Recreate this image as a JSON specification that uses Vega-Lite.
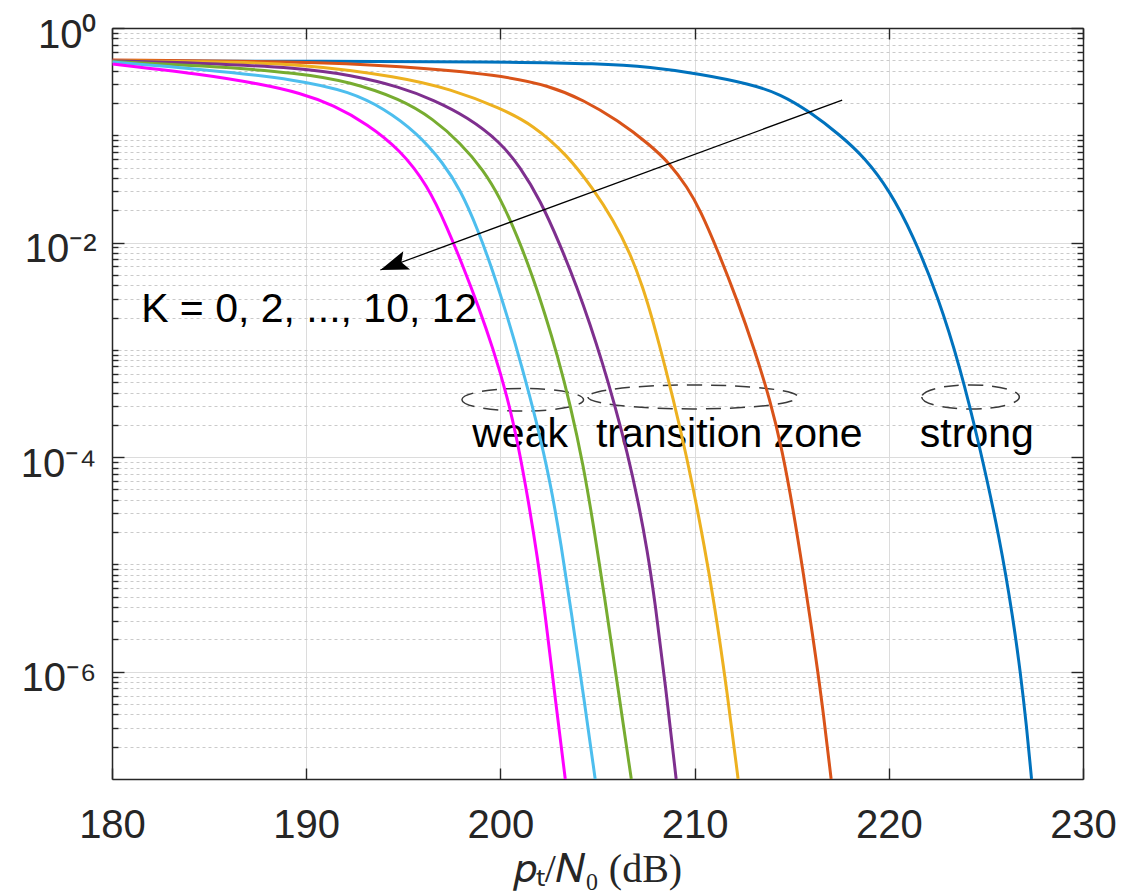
{
  "$schema": "https://vega.github.io/schema/vega-lite/v6.json",
  "width": 971,
  "height": 751,
  "autosize": "none",
  "padding": {"left": 112, "top": 28, "right": 57, "bottom": 116},
  "background": "white",
  "config": {
    "view": {"stroke": null},
    "axis": {
      "domainColor": "#262626",
      "domainWidth": 1.5,
      "tickColor": "#262626",
      "tickWidth": 1.4,
      "labelFont": "Liberation Sans",
      "labelFontSize": 40,
      "labelColor": "#262626",
      "titleFont": "Liberation Serif",
      "titleFontSize": 40,
      "titleFontWeight": "normal",
      "titleColor": "#262626",
      "gridColor": "#dcdcdc",
      "gridWidth": 1
    }
  },
  "datasets": {
    "curves": [
      {"K": 0, "ptN0": 180.03, "Pout": 0.4926},
      {"K": 0, "ptN0": 189.70, "Pout": 0.4904},
      {"K": 0, "ptN0": 199.99, "Pout": 0.4852},
      {"K": 0, "ptN0": 205.14, "Pout": 0.4669},
      {"K": 0, "ptN0": 207.72, "Pout": 0.4330},
      {"K": 0, "ptN0": 210.29, "Pout": 0.3726},
      {"K": 0, "ptN0": 212.86, "Pout": 0.3007},
      {"K": 0, "ptN0": 214.41, "Pout": 0.2426},
      {"K": 0, "ptN0": 215.95, "Pout": 0.1648},
      {"K": 0, "ptN0": 217.49, "Pout": 0.1006},
      {"K": 0, "ptN0": 218.78, "Pout": 0.0614},
      {"K": 0, "ptN0": 220.02, "Pout": 0.03093},
      {"K": 0, "ptN0": 221.25, "Pout": 0.01177},
      {"K": 0, "ptN0": 222.54, "Pout": 0.003112},
      {"K": 0, "ptN0": 223.67, "Pout": 0.000693},
      {"K": 0, "ptN0": 224.70, "Pout": 0.0001218},
      {"K": 0, "ptN0": 225.73, "Pout": 1.691e-5},
      {"K": 0, "ptN0": 226.41, "Pout": 3.04e-6},
      {"K": 0, "ptN0": 226.76, "Pout": 1.039e-6},
      {"K": 0, "ptN0": 227.10, "Pout": 3.06e-7},
      {"K": 0, "ptN0": 227.35, "Pout": 1.0e-7},

      {"K": 2, "ptN0": 180.03, "Pout": 0.5033},
      {"K": 2, "ptN0": 189.70, "Pout": 0.4873},
      {"K": 2, "ptN0": 194.85, "Pout": 0.4421},
      {"K": 2, "ptN0": 199.99, "Pout": 0.3648},
      {"K": 2, "ptN0": 202.57, "Pout": 0.2881},
      {"K": 2, "ptN0": 204.27, "Pout": 0.2133},
      {"K": 2, "ptN0": 206.02, "Pout": 0.1389},
      {"K": 2, "ptN0": 207.72, "Pout": 0.08121},
      {"K": 2, "ptN0": 208.74, "Pout": 0.05401},
      {"K": 2, "ptN0": 209.62, "Pout": 0.03297},
      {"K": 2, "ptN0": 210.29, "Pout": 0.02013},
      {"K": 2, "ptN0": 211.22, "Pout": 0.008177},
      {"K": 2, "ptN0": 212.19, "Pout": 0.002918},
      {"K": 2, "ptN0": 213.07, "Pout": 0.001020},
      {"K": 2, "ptN0": 213.89, "Pout": 0.0003412},
      {"K": 2, "ptN0": 214.51, "Pout": 0.0001167},
      {"K": 2, "ptN0": 215.08, "Pout": 3.220e-5},
      {"K": 2, "ptN0": 215.59, "Pout": 8.51e-6},
      {"K": 2, "ptN0": 216.10, "Pout": 2.065e-6},
      {"K": 2, "ptN0": 216.57, "Pout": 5.12e-7},
      {"K": 2, "ptN0": 217.03, "Pout": 1.0e-7},

      {"K": 4, "ptN0": 180.03, "Pout": 0.4926},
      {"K": 4, "ptN0": 184.55, "Pout": 0.4873},
      {"K": 4, "ptN0": 189.70, "Pout": 0.4669},
      {"K": 4, "ptN0": 194.85, "Pout": 0.3495},
      {"K": 4, "ptN0": 197.42, "Pout": 0.2701},
      {"K": 4, "ptN0": 199.99, "Pout": 0.1797},
      {"K": 4, "ptN0": 201.69, "Pout": 0.1247},
      {"K": 4, "ptN0": 203.44, "Pout": 0.06553},
      {"K": 4, "ptN0": 204.78, "Pout": 0.03159},
      {"K": 4, "ptN0": 205.81, "Pout": 0.01624},
      {"K": 4, "ptN0": 206.68, "Pout": 0.008001},
      {"K": 4, "ptN0": 207.35, "Pout": 0.003775},
      {"K": 4, "ptN0": 207.87, "Pout": 0.001820},
      {"K": 4, "ptN0": 208.49, "Pout": 0.000693},
      {"K": 4, "ptN0": 209.26, "Pout": 0.0001871},
      {"K": 4, "ptN0": 209.93, "Pout": 5.163e-5},
      {"K": 4, "ptN0": 210.49, "Pout": 1.519e-5},
      {"K": 4, "ptN0": 211.01, "Pout": 4.378e-6},
      {"K": 4, "ptN0": 211.63, "Pout": 7.53e-7},
      {"K": 4, "ptN0": 212.24, "Pout": 1.0e-7},

      {"K": 6, "ptN0": 180.03, "Pout": 0.4926},
      {"K": 6, "ptN0": 184.55, "Pout": 0.4719},
      {"K": 6, "ptN0": 189.70, "Pout": 0.4239},
      {"K": 6, "ptN0": 192.27, "Pout": 0.3648},
      {"K": 6, "ptN0": 194.85, "Pout": 0.2820},
      {"K": 6, "ptN0": 196.55, "Pout": 0.2133},
      {"K": 6, "ptN0": 198.30, "Pout": 0.1482},
      {"K": 6, "ptN0": 199.99, "Pout": 0.08661},
      {"K": 6, "ptN0": 201.02, "Pout": 0.05064},
      {"K": 6, "ptN0": 202.05, "Pout": 0.02495},
      {"K": 6, "ptN0": 203.08, "Pout": 0.009497},
      {"K": 6, "ptN0": 203.96, "Pout": 0.003775},
      {"K": 6, "ptN0": 204.63, "Pout": 0.001707},
      {"K": 6, "ptN0": 205.24, "Pout": 0.000771},
      {"K": 6, "ptN0": 205.86, "Pout": 0.0003199},
      {"K": 6, "ptN0": 206.53, "Pout": 0.0001118},
      {"K": 6, "ptN0": 207.10, "Pout": 3.824e-5},
      {"K": 6, "ptN0": 207.56, "Pout": 1.365e-5},
      {"K": 6, "ptN0": 207.97, "Pout": 4.378e-6},
      {"K": 6, "ptN0": 208.49, "Pout": 7.70e-7},
      {"K": 6, "ptN0": 209.05, "Pout": 1.0e-7},

      {"K": 8, "ptN0": 180.03, "Pout": 0.4873},
      {"K": 8, "ptN0": 184.55, "Pout": 0.4471},
      {"K": 8, "ptN0": 189.70, "Pout": 0.3807},
      {"K": 8, "ptN0": 192.27, "Pout": 0.3139},
      {"K": 8, "ptN0": 194.85, "Pout": 0.2180},
      {"K": 8, "ptN0": 196.55, "Pout": 0.1419},
      {"K": 8, "ptN0": 197.94, "Pout": 0.08477},
      {"K": 8, "ptN0": 199.12, "Pout": 0.04749},
      {"K": 8, "ptN0": 199.99, "Pout": 0.02604},
      {"K": 8, "ptN0": 200.87, "Pout": 0.01152},
      {"K": 8, "ptN0": 201.69, "Pout": 0.004678},
      {"K": 8, "ptN0": 202.31, "Pout": 0.002114},
      {"K": 8, "ptN0": 202.93, "Pout": 0.000897},
      {"K": 8, "ptN0": 203.60, "Pout": 0.0003065},
      {"K": 8, "ptN0": 204.27, "Pout": 8.46e-5},
      {"K": 8, "ptN0": 204.83, "Pout": 2.097e-5},
      {"K": 8, "ptN0": 205.35, "Pout": 5.196e-6},
      {"K": 8, "ptN0": 206.02, "Pout": 7.70e-7},
      {"K": 8, "ptN0": 206.74, "Pout": 1.0e-7},

      {"K": 10, "ptN0": 180.03, "Pout": 0.4820},
      {"K": 10, "ptN0": 184.55, "Pout": 0.4148},
      {"K": 10, "ptN0": 189.70, "Pout": 0.3277},
      {"K": 10, "ptN0": 192.27, "Pout": 0.2532},
      {"K": 10, "ptN0": 193.97, "Pout": 0.1797},
      {"K": 10, "ptN0": 195.72, "Pout": 0.1050},
      {"K": 10, "ptN0": 197.06, "Pout": 0.05518},
      {"K": 10, "ptN0": 197.94, "Pout": 0.03093},
      {"K": 10, "ptN0": 198.81, "Pout": 0.01368},
      {"K": 10, "ptN0": 199.63, "Pout": 0.005321},
      {"K": 10, "ptN0": 200.35, "Pout": 0.002069},
      {"K": 10, "ptN0": 201.07, "Pout": 0.0007388},
      {"K": 10, "ptN0": 201.84, "Pout": 0.0002222},
      {"K": 10, "ptN0": 202.57, "Pout": 5.872e-5},
      {"K": 10, "ptN0": 203.13, "Pout": 1.519e-5},
      {"K": 10, "ptN0": 203.65, "Pout": 3.608e-6},
      {"K": 10, "ptN0": 204.27, "Pout": 6.21e-7},
      {"K": 10, "ptN0": 204.88, "Pout": 1.0e-7},

      {"K": 12, "ptN0": 180.03, "Pout": 0.4619},
      {"K": 12, "ptN0": 184.55, "Pout": 0.3726},
      {"K": 12, "ptN0": 187.64, "Pout": 0.3007},
      {"K": 12, "ptN0": 189.70, "Pout": 0.2479},
      {"K": 12, "ptN0": 191.40, "Pout": 0.1916},
      {"K": 12, "ptN0": 193.15, "Pout": 0.1274},
      {"K": 12, "ptN0": 194.85, "Pout": 0.07295},
      {"K": 12, "ptN0": 196.24, "Pout": 0.03442},
      {"K": 12, "ptN0": 197.27, "Pout": 0.01368},
      {"K": 12, "ptN0": 198.09, "Pout": 0.005925},
      {"K": 12, "ptN0": 198.86, "Pout": 0.002565},
      {"K": 12, "ptN0": 199.63, "Pout": 0.001020},
      {"K": 12, "ptN0": 200.35, "Pout": 0.0003719},
      {"K": 12, "ptN0": 200.92, "Pout": 0.0001299},
      {"K": 12, "ptN0": 201.43, "Pout": 3.991e-5},
      {"K": 12, "ptN0": 201.90, "Pout": 1.200e-5},
      {"K": 12, "ptN0": 202.31, "Pout": 3.384e-6},
      {"K": 12, "ptN0": 202.77, "Pout": 6.77e-7},
      {"K": 12, "ptN0": 203.34, "Pout": 1.0e-7}
    ],
    "notes": [
      {"label": "K = 0, 2, ..., 10, 12", "x": 181.5, "y": 0.00183},
      {"label": "weak", "x": 198.55, "y": 0.000125},
      {"label": "transition zone", "x": 204.92, "y": 0.000125},
      {"label": "strong", "x": 221.6, "y": 0.000125}
    ],
    "zones": [
      {"zone": "weak", "x": 201.15, "y": 0.000343},
      {"zone": "transition", "x": 209.91, "y": 0.000364},
      {"zone": "strong", "x": 224.21, "y": 0.000364}
    ],
    "arrow": [
      {"x": 217.6, "y": 0.213, "x2": 193.82, "y2": 0.00555}
    ]
  },
  "resolve": {"axis": {"x": "independent", "y": "independent"}},
  "layer": [
    {
      "data": {"name": "notes"},
      "mark": {"type": "text", "font": "Liberation Sans", "fontSize": 41, "align": "left", "baseline": "alphabetic", "color": "#000000"},
      "encoding": {
        "x": {
          "field": "x", "type": "quantitative",
          "scale": {"domain": [180, 230], "nice": false, "zero": false},
          "axis": {"orient": "top", "values": [180, 190, 200, 210, 220, 230], "labels": false, "grid": false, "tickSize": -11, "domain": true, "title": null}
        },
        "y": {
          "field": "y", "type": "quantitative",
          "scale": {"type": "log", "domain": [1e-7, 1], "nice": false},
          "axis": {
            "orient": "left",
            "values": [2e-7, 3e-7, 4e-7, 5e-7, 6e-7, 7e-7, 8e-7, 9e-7, 2e-6, 3e-6, 4e-6, 5e-6, 6e-6, 7e-6, 8e-6, 9e-6, 1e-5, 2e-5, 3e-5, 4e-5, 5e-5, 6e-5, 7e-5, 8e-5, 9e-5, 2e-4, 3e-4, 4e-4, 5e-4, 6e-4, 7e-4, 8e-4, 9e-4, 1e-3, 2e-3, 3e-3, 4e-3, 5e-3, 6e-3, 7e-3, 8e-3, 9e-3, 0.02, 0.03, 0.04, 0.05, 0.06, 0.07, 0.08, 0.09, 0.1, 0.2, 0.3, 0.4, 0.5, 0.6, 0.7, 0.8, 0.9],
            "labels": false, "grid": true, "gridColor": "#cacaca", "gridDash": [3, 3], "tickSize": -6, "domain": false, "title": null
          }
        },
        "text": {"field": "label", "type": "nominal"}
      }
    },
    {
      "data": {"name": "zones"},
      "transform": [{"filter": "datum.zone === 'weak'"}],
      "mark": {"type": "point", "shape": "M-1,0A1,0.186 0 1,0 1,0A1,0.186 0 1,0 -1,0Z", "size": 14786, "filled": false, "stroke": "#3a3a3a", "strokeWidth": 1.5, "strokeDash": [15, 9], "opacity": 1},
      "encoding": {
        "x": {"field": "x", "type": "quantitative", "scale": {"domain": [180, 230], "nice": false, "zero": false}, "axis": null},
        "y": {
          "field": "y", "type": "quantitative",
          "scale": {"type": "log", "domain": [1e-7, 1], "nice": false},
          "axis": {
            "orient": "right",
            "values": [2e-7, 3e-7, 4e-7, 5e-7, 6e-7, 7e-7, 8e-7, 9e-7, 2e-6, 3e-6, 4e-6, 5e-6, 6e-6, 7e-6, 8e-6, 9e-6, 1e-5, 2e-5, 3e-5, 4e-5, 5e-5, 6e-5, 7e-5, 8e-5, 9e-5, 2e-4, 3e-4, 4e-4, 5e-4, 6e-4, 7e-4, 8e-4, 9e-4, 1e-3, 2e-3, 3e-3, 4e-3, 5e-3, 6e-3, 7e-3, 8e-3, 9e-3, 0.02, 0.03, 0.04, 0.05, 0.06, 0.07, 0.08, 0.09, 0.1, 0.2, 0.3, 0.4, 0.5, 0.6, 0.7, 0.8, 0.9],
            "labels": false, "grid": false, "tickSize": -6, "domain": false, "title": null
          }
        }
      }
    },
    {
      "data": {"name": "zones"},
      "transform": [{"filter": "datum.zone === 'transition'"}],
      "mark": {"type": "point", "shape": "M-1,0A1,0.114 0 1,0 1,0A1,0.114 0 1,0 -1,0Z", "size": 44100, "filled": false, "stroke": "#3a3a3a", "strokeWidth": 1.5, "strokeDash": [15, 9], "opacity": 1},
      "encoding": {
        "x": {"field": "x", "type": "quantitative", "scale": {"domain": [180, 230], "nice": false, "zero": false}, "axis": null},
        "y": {"field": "y", "type": "quantitative", "scale": {"type": "log", "domain": [1e-7, 1], "nice": false}, "axis": null}
      }
    },
    {
      "data": {"name": "zones"},
      "transform": [{"filter": "datum.zone === 'strong'"}],
      "mark": {"type": "point", "shape": "M-1,0A1,0.246 0 1,0 1,0A1,0.246 0 1,0 -1,0Z", "size": 9526, "filled": false, "stroke": "#3a3a3a", "strokeWidth": 1.5, "strokeDash": [15, 9], "opacity": 1},
      "encoding": {
        "x": {"field": "x", "type": "quantitative", "scale": {"domain": [180, 230], "nice": false, "zero": false}, "axis": null},
        "y": {"field": "y", "type": "quantitative", "scale": {"type": "log", "domain": [1e-7, 1], "nice": false}, "axis": null}
      }
    },
    {
      "data": {"name": "curves"},
      "mark": {"type": "line", "strokeWidth": 3, "interpolate": "basis", "clip": true},
      "encoding": {
        "x": {
          "field": "ptN0", "type": "quantitative",
          "scale": {"domain": [180, 230], "nice": false, "zero": false},
          "axis": {
            "orient": "bottom", "values": [180, 190, 200, 210, 220, 230], "format": "d",
            "grid": true, "tickSize": -11, "labelPadding": 37, "labelFlush": false, "labelOverlap": false,
            "domain": true, "title": "𝑝ₜ/𝑁₀ (dB)", "titlePadding": 4
          }
        },
        "y": {
          "field": "Pout", "type": "quantitative",
          "scale": {"type": "log", "domain": [1e-7, 1], "nice": false},
          "axis": {
            "orient": "left", "values": [1e-6, 1e-4, 0.01, 1],
            "labelExpr": "datum.value > 0.5 ? '10⁰' : datum.value > 0.005 ? '10⁻²' : datum.value > 0.00005 ? '10⁻⁴' : '10⁻⁶'",
            "grid": true, "tickSize": -12, "labelPadding": 28, "labelOffset": 7, "labelBaseline": "middle", "labelAlign": "right",
            "labelFlush": false, "labelOverlap": false, "domain": true, "title": null
          }
        },
        "color": {
          "field": "K", "type": "nominal",
          "scale": {"domain": [0, 2, 4, 6, 8, 10, 12], "range": ["#0072BD", "#D95319", "#EDB120", "#7E2F8E", "#77AC30", "#4DBEEE", "#FF00FF"]},
          "legend": null
        }
      }
    },
    {
      "data": {"name": "arrow"},
      "mark": {"type": "rule", "color": "#000000", "strokeWidth": 1.3},
      "encoding": {
        "x": {"field": "x", "type": "quantitative", "scale": {"domain": [180, 230], "nice": false, "zero": false}, "axis": null},
        "y": {
          "field": "y", "type": "quantitative",
          "scale": {"type": "log", "domain": [1e-7, 1], "nice": false},
          "axis": {"orient": "right", "values": [1e-6, 1e-4, 0.01, 1], "labels": false, "grid": false, "tickSize": -12, "domain": true, "title": null}
        },
        "x2": {"field": "x2"},
        "y2": {"field": "y2"}
      }
    },
    {
      "data": {"name": "arrow"},
      "mark": {"type": "point", "shape": "M0,0L-2,-0.7L-1.6,0L-2,0.7Z", "size": 784, "angle": 159.8, "filled": true, "color": "#000000", "opacity": 1},
      "encoding": {
        "x": {"field": "x2", "type": "quantitative", "scale": {"domain": [180, 230], "nice": false, "zero": false}, "axis": null},
        "y": {"field": "y2", "type": "quantitative", "scale": {"type": "log", "domain": [1e-7, 1], "nice": false}, "axis": null}
      }
    }
  ]
}
